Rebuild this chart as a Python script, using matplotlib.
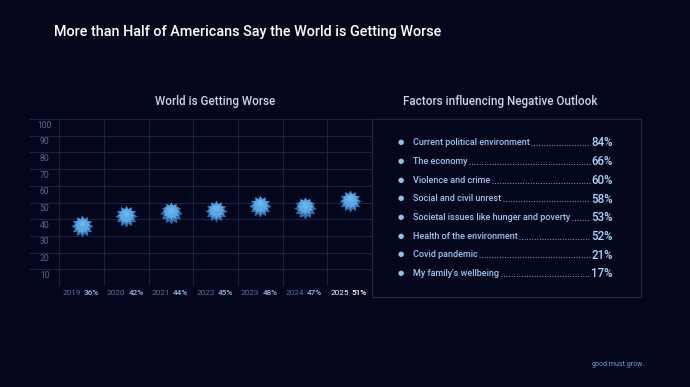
import numpy as np
import matplotlib.pyplot as plt
from matplotlib.patches import Rectangle

plt.rcParams['font.family'] = ['Roboto', 'DejaVu Sans']

# data
years = ['2019', '2020', '2021', '2022', '2023', '2024', '2025']
worse = [36, 42, 44, 45, 48, 47, 51]
y_ticks = [10, 20, 30, 40, 50, 60, 70, 80, 90, 100]

factors = ['Current political environment', 'The economy', 'Violence and crime',
           'Social and civil unrest', 'Societal issues like hunger and poverty',
           'Health of the environment', 'Covid pandemic', "My family's wellbeing"]
factor_pct = [84, 66, 60, 58, 53, 52, 21, 17]

bg = '#04061c'
grid = '#1b2142'
W, H = 690, 387

fig = plt.figure(figsize=(6.9, 3.87), dpi=100, facecolor=bg)

def fx(px):
    return px / W

def fy(py):
    return 1 - py / H

# 12 point badge-like star
ang = np.linspace(0, 2 * np.pi, 25)[:-1] + np.pi / 2
rad = np.where(np.arange(24) % 2 == 0, 1.0, 0.7)
star = np.column_stack([rad * np.cos(ang), rad * np.sin(ang)])

# titles
fig.text(fx(54), fy(32), 'More than Half of Americans Say the World is Getting Worse',
         color='white', fontsize=10.4, fontweight='medium', ha='left', va='center')
fig.text(fx(215), fy(102), 'World is Getting Worse', color='#c9d6ea',
         fontsize=8.4, fontweight='medium', ha='center', va='center')
fig.text(fx(500), fy(102), 'Factors influencing Negative Outlook', color='#c9d6ea',
         fontsize=8.4, fontweight='medium', ha='center', va='center')

# left chart
lab_w = 29.3 / 44.67
ax = fig.add_axes([fx(30), fy(286), fx(372 - 30), (286 - 119) / H])
ax.set_facecolor(bg)
ax.set_xlim(-lab_w, 7)
ax.set_ylim(0, 100)
for s in ax.spines.values():
    s.set_visible(False)
ax.set_xticks([])
ax.set_yticks([])
for v in range(0, 101, 10):
    ax.axhline(v, color=grid, lw=0.8, zorder=1)
for i in range(0, 7):
    ax.axvline(i, color=grid, lw=0.8, zorder=1)

for v in y_ticks:
    ax.text(-lab_w / 2, v - 3.6, str(v), color='#56698f', fontsize=6.2,
            ha='center', va='center')

xs = [i + 0.5 for i in range(len(years))]
ax.plot(xs, worse, ls='none', marker=star, ms=16, color='#2e6fb0',
        mec='none', zorder=3, clip_on=False)
ax.plot(xs, [w + 0.7 for w in worse], ls='none', marker=star, ms=12.5,
        color='#5aa7e2', mec='none', zorder=4, clip_on=False)
ax.plot(xs, [w + 1.8 for w in worse], ls='none', marker='o', ms=4.5,
        color='#78bdee', mec='none', alpha=0.6, zorder=5, clip_on=False)

for i, (yr, w) in enumerate(zip(years, worse)):
    last = i == len(years) - 1
    ax.text(xs[i] - 0.02, -4.2, yr, color='white' if last else '#5672a0',
            fontsize=5.9, ha='right', va='center', clip_on=False)
    ax.text(xs[i] + 0.05, -4.2, f'{w}%', color='white' if last else '#8fbbe6',
            fontsize=5.9, fontweight='medium', ha='left', va='center', clip_on=False)

# right panel
fig.patches.append(Rectangle((fx(372), fy(297)), fx(640.7 - 372), (297 - 119) / H,
                             transform=fig.transFigure, facecolor='none',
                             edgecolor='#1f2648', lw=0.9))

row0, step = 142.7, 18.67
fig.canvas.draw()
rend = fig.canvas.get_renderer()
for k, (name, p) in enumerate(zip(factors, factor_pct)):
    y = row0 + k * step
    fig.text(fx(400.7), fy(y), '\u25cf', color='#8cc4ee', fontsize=5.2,
             ha='center', va='center')
    t = fig.text(fx(412.7), fy(y), name, color='#9cc6ee', fontsize=6.5,
                 fontweight='medium', ha='left', va='center')
    pt = fig.text(fx(612.5), fy(y + 0.3), f'{p}%', color='#a9d4fb', fontsize=8.3,
                  fontweight='medium', ha='right', va='center')
    bb = t.get_window_extent(rend)
    pb = pt.get_window_extent(rend)
    x0 = bb.x1 + 2
    x1 = pb.x0 - 1
    yb = fy(y + 2.6)
    fig.add_artist(plt.Line2D([x0 / W, x1 / W], [yb, yb], color='#7fa9d4',
                              lw=0.8, ls=(0, (0.8, 1.5)), transform=fig.transFigure))

fig.text(fx(592), fy(364), 'good.must.grow.', color='#5ea6df', fontsize=5,
         ha='left', va='center')

fig.savefig('out.png', dpi=100, facecolor=bg)
